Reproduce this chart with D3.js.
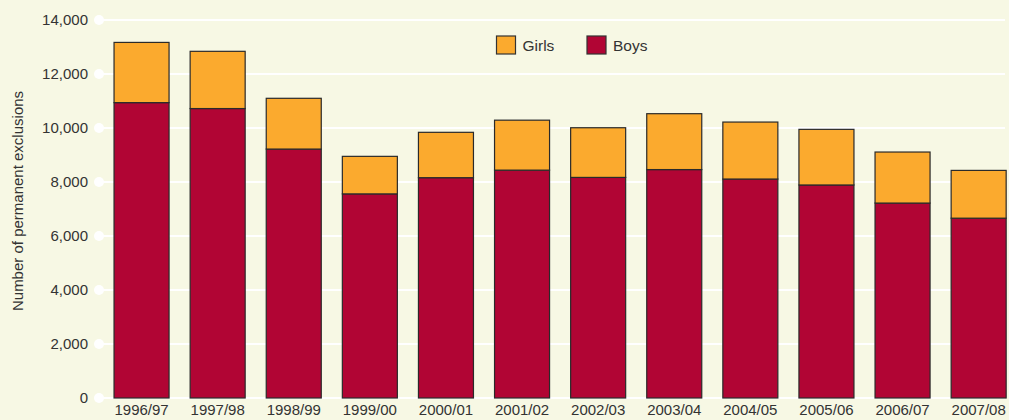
<!DOCTYPE html>
<html>
<head>
<meta charset="utf-8">
<script src="https://cdn.jsdelivr.net/npm/d3@7"></script>
<style>
  body { margin: 0; background: #f7f8e4; }
  svg { display: block; font-family: "Liberation Sans", Arial, sans-serif; }
</style>
</head>
<body>
<svg id="chart" width="1009" height="420"></svg>
<script>
const years = ["1996/97", "1997/98", "1998/99", "1999/00", "2000/01", "2001/02",
    "2002/03", "2003/04", "2004/05", "2005/06", "2006/07", "2007/08"];
const boys = [10940, 10720, 9220, 7560, 8160, 8440, 8170, 8460, 8110, 7890, 7220, 6660];
const girls = [2230, 2120, 1880, 1390, 1680, 1850, 1840, 2070, 2110, 2060, 1890, 1770];
const yTicks = [0, 2000, 4000, 6000, 8000, 10000, 12000, 14000];

const svg = d3.select("#chart");

svg.append("rect")
    .attr("width", 1009)
    .attr("height", 420)
    .attr("fill", "#f7f8e4");

const x = d3.scaleBand()
    .domain(years)
    .range([103.5, 1016.7])
    .paddingInner(0.277)
    .paddingOuter(0.1385);

const y = d3.scaleLinear()
    .domain([0, 14000])
    .range([398, 20]);

// gridlines with the round dot at the left end
const grid = svg.append("g");
yTicks.forEach(t => {
    grid.append("line")
        .attr("x1", 99)
        .attr("x2", 1005)
        .attr("y1", y(t))
        .attr("y2", y(t))
        .attr("stroke", "#ffffff")
        .attr("stroke-width", 2);
    grid.append("circle")
        .attr("cx", 99)
        .attr("cy", y(t))
        .attr("r", 5)
        .attr("fill", "#ffffff");
});

// y axis labels
svg.append("g")
    .attr("transform", "translate(88,0)")
    .call(d3.axisLeft(y).tickValues(yTicks).tickSize(0).tickPadding(0).tickFormat(d3.format(",")))
    .call(g => g.select(".domain").remove())
    .call(g => g.selectAll("text")
        .attr("font-size", 15)
        .attr("font-family", "Liberation Sans, Arial, sans-serif")
        .attr("fill", "#333"));

// x axis labels
svg.append("g")
    .attr("transform", "translate(0,404)")
    .call(d3.axisBottom(x).tickSize(0).tickPadding(0))
    .call(g => g.select(".domain").remove())
    .call(g => g.selectAll("text")
        .attr("font-size", 15)
        .attr("font-family", "Liberation Sans, Arial, sans-serif")
        .attr("fill", "#333"));

svg.append("text")
    .attr("transform", "translate(23,201) rotate(-90)")
    .attr("text-anchor", "middle")
    .attr("font-size", 15)
    .attr("fill", "#333")
    .text("Number of permanent exclusions");

// stacked bars
const bars = svg.append("g");
years.forEach((yr, i) => {
    bars.append("rect")
        .attr("x", x(yr))
        .attr("y", y(boys[i]))
        .attr("width", x.bandwidth())
        .attr("height", y(0) - y(boys[i]))
        .attr("fill", "#b10534")
        .attr("stroke", "#2a2a2a")
        .attr("stroke-width", 1.2);
    bars.append("rect")
        .attr("x", x(yr))
        .attr("y", y(boys[i] + girls[i]))
        .attr("width", x.bandwidth())
        .attr("height", y(boys[i]) - y(boys[i] + girls[i]))
        .attr("fill", "#fbaa2e")
        .attr("stroke", "#2a2a2a")
        .attr("stroke-width", 1.2);
});

// legend
const legend = svg.append("g");
[["Girls", "#fbaa2e", 496.5], ["Boys", "#b10534", 587]].forEach(([name, color, lx]) => {
    legend.append("rect")
        .attr("x", lx)
        .attr("y", 36)
        .attr("width", 19)
        .attr("height", 18)
        .attr("fill", color)
        .attr("stroke", "#333")
        .attr("stroke-width", 1.2);
    legend.append("text")
        .attr("x", lx + 26)
        .attr("y", 51)
        .attr("font-size", 15.5)
        .attr("fill", "#333")
        .text(name);
});
</script>
</body>
</html>
